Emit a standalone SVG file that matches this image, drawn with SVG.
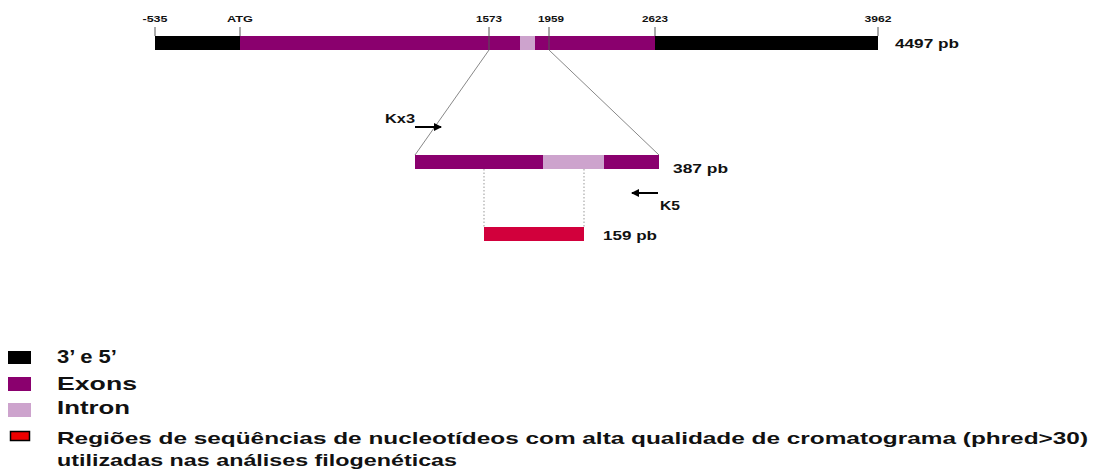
<svg xmlns="http://www.w3.org/2000/svg" width="1108" height="472" viewBox="0 0 1108 472">
<defs>
<style>
.t{font-family:"Liberation Sans",Arial,sans-serif;font-weight:bold;fill:#111}
.tick{stroke:#555;stroke-width:1}
.guide{stroke:#888;stroke-width:1;fill:none}
.dot{stroke:#aaa;stroke-width:1.2;stroke-dasharray:1.5 2}
.ex{fill:#8a006e}
.in{fill:#cda3cd}
.bk{fill:#000}
.arr{stroke:#000;stroke-width:2}
</style>
<marker id="ah" markerWidth="8" markerHeight="8" refX="7" refY="4" orient="auto" markerUnits="userSpaceOnUse">
<path d="M0,0 L8,4 L0,8 Z" fill="#000"/>
</marker>
</defs>
<rect width="1108" height="472" fill="#fff"/>

<g id="gene-bar">
<rect class="bk" x="155" y="36" width="85" height="14"/>
<rect class="ex" x="240" y="36" width="280" height="14"/>
<rect class="in" x="520" y="36" width="15" height="14"/>
<rect class="ex" x="535" y="36" width="120" height="14"/>
<rect class="bk" x="655" y="36" width="223" height="14"/>
<line class="tick" x1="155" y1="27" x2="155" y2="36"/>
<line class="tick" x1="240" y1="27" x2="240" y2="36"/>
<line class="tick" x1="489" y1="27" x2="489" y2="50"/>
<line class="tick" x1="549" y1="27" x2="549" y2="50"/>
<line class="tick" x1="655" y1="27" x2="655" y2="36"/>
<line class="tick" x1="878" y1="27" x2="878" y2="36"/>
<text class="t" x="155" y="22" font-size="9.5" text-anchor="middle" textLength="25" lengthAdjust="spacingAndGlyphs">-535</text>
<text class="t" x="240" y="22" font-size="9.5" text-anchor="middle" textLength="26" lengthAdjust="spacingAndGlyphs">ATG</text>
<text class="t" x="489" y="22" font-size="9.5" text-anchor="middle" textLength="26" lengthAdjust="spacingAndGlyphs">1573</text>
<text class="t" x="551" y="22" font-size="9.5" text-anchor="middle" textLength="26" lengthAdjust="spacingAndGlyphs">1959</text>
<text class="t" x="655" y="22" font-size="9.5" text-anchor="middle" textLength="26" lengthAdjust="spacingAndGlyphs">2623</text>
<text class="t" x="878" y="22" font-size="9.5" text-anchor="middle" textLength="27" lengthAdjust="spacingAndGlyphs">3962</text>
<text class="t" x="895" y="48" font-size="12" textLength="64" lengthAdjust="spacingAndGlyphs">4497 pb</text>
</g>

<g id="connectors">
<line class="guide" x1="489" y1="50" x2="415" y2="155"/>
<line class="guide" x1="549" y1="50" x2="659" y2="155"/>
<line class="dot" x1="484" y1="169" x2="484" y2="227"/>
<line class="dot" x1="584" y1="169" x2="584" y2="227"/>
</g>

<g id="amplicon">
<rect class="ex" x="415" y="155" width="128" height="14"/>
<rect class="in" x="543" y="155" width="61" height="14"/>
<rect class="ex" x="604" y="155" width="55" height="14"/>
<text class="t" x="673" y="173" font-size="12.5" textLength="55" lengthAdjust="spacingAndGlyphs">387 pb</text>
</g>

<g id="primer-kx3">
<line class="arr" x1="415" y1="127" x2="441" y2="127" marker-end="url(#ah)"/>
<text class="t" x="385" y="123" font-size="12" textLength="30" lengthAdjust="spacingAndGlyphs">Kx3</text>
</g>

<g id="primer-k5">
<line class="arr" x1="658" y1="193" x2="632" y2="193" marker-end="url(#ah)"/>
<text class="t" x="660" y="210" font-size="12" textLength="20" lengthAdjust="spacingAndGlyphs">K5</text>
</g>

<g id="fragment">
<rect x="484" y="227" width="100" height="14" fill="#d2003c"/>
<text class="t" x="603" y="240" font-size="12.5" textLength="54" lengthAdjust="spacingAndGlyphs">159 pb</text>
</g>

<g id="legend">
<rect x="8" y="351" width="23" height="13" fill="#000"/>
<text class="t" x="57" y="363" font-size="19" textLength="60" lengthAdjust="spacingAndGlyphs">3’ e 5’</text>
<rect x="8" y="377" width="23" height="14" class="ex"/>
<text class="t" x="57" y="390" font-size="19" textLength="80" lengthAdjust="spacingAndGlyphs">Exons</text>
<rect x="8" y="403" width="23" height="14" class="in"/>
<text class="t" x="57" y="414" font-size="19" textLength="73" lengthAdjust="spacingAndGlyphs">Intron</text>
<rect x="10.5" y="431.5" width="19" height="9" fill="#ee0000" stroke="#000" stroke-width="1.5"/>
<text class="t" x="57" y="444" font-size="17" textLength="1031" lengthAdjust="spacingAndGlyphs">Regiões de seqüências de nucleotídeos com alta qualidade de cromatograma (phred&gt;30)</text>
<text class="t" x="57" y="466" font-size="17" textLength="400" lengthAdjust="spacingAndGlyphs">utilizadas nas análises filogenéticas</text>
</g>
</svg>
